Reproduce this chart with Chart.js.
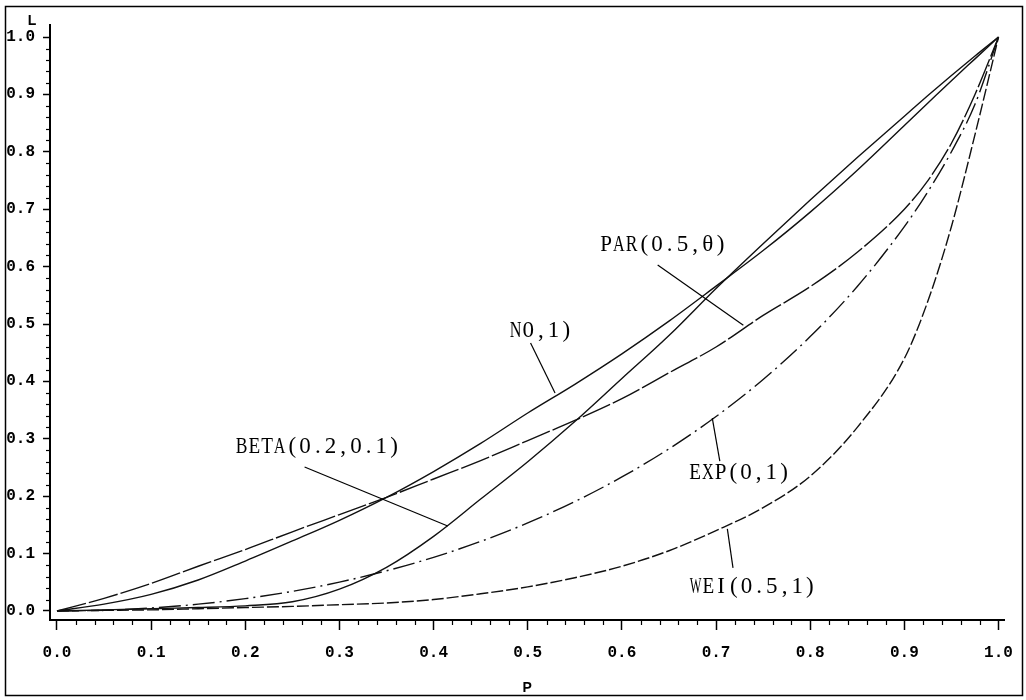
<!DOCTYPE html>
<html>
<head>
<meta charset="utf-8">
<script src="https://cdn.jsdelivr.net/npm/chart.js@4"></script>
<style>
  html,body{margin:0;padding:0;background:#fff;}
  #wrap{width:1026px;height:700px;position:relative;}
</style>
</head>
<body>
<div id="wrap"><canvas id="c" width="1026" height="700"></canvas></div>
<script>
// ---- data ----
const P    = [0,0.05,0.1,0.15,0.2,0.25,0.3,0.35,0.4,0.45,0.5,0.55,0.6,0.65,0.7,0.75,0.8,0.85,0.9,0.925,0.95,0.975,1];
const N01  = [0,0.012,0.029,0.054,0.087,0.122,0.158,0.198,0.243,0.292,0.345,0.395,0.448,0.505,0.566,0.628,0.695,0.768,0.846,0.885,0.924,0.962,1];
const BETA = [0,0.002,0.004,0.006,0.009,0.016,0.038,0.076,0.13,0.195,0.26,0.33,0.405,0.48,0.562,0.64,0.716,0.79,0.862,0.898,0.933,0.967,1];
const PAR  = [0,0.022,0.048,0.078,0.107,0.138,0.168,0.198,0.23,0.262,0.297,0.332,0.37,0.415,0.46,0.515,0.565,0.625,0.70,0.75,0.815,0.90,1];
const EXP  = [0,0.0013,0.0052,0.0119,0.0215,0.0342,0.0503,0.0700,0.0935,0.1212,0.1534,0.1907,0.2335,0.2826,0.3388,0.4034,0.4781,0.5654,0.6697,0.7307,0.8002,0.8828,1];
const WEI  = [0,0.001,0.002,0.004,0.006,0.008,0.011,0.014,0.02,0.03,0.042,0.058,0.078,0.105,0.14,0.18,0.235,0.32,0.44,0.54,0.67,0.83,1];
const TICKS = [0,0.1,0.2,0.3,0.4,0.5,0.6,0.7,0.8,0.9,1.0];
const X_TITLE = 'P';
const Y_TITLE = 'L';
// curve labels: text, label centre (p,L), leader start (p,L), leader end (p,L)
const LABEL_TEXT = ['BETA(0.2,0.1)','N0,1)','PAR(0.5,θ)','EXP(0,1)','WEI(0.5,1)'];
const LABEL_POS  = [[0.277,0.287],[0.514,0.490],[0.644,0.639],[0.725,0.242],[0.739,0.044]];
const LEADER_A   = [[0.263,0.251],[0.503,0.467],[0.638,0.603],[0.704,0.261],[0.718,0.075]];
const LEADER_B   = [[0.415,0.148],[0.529,0.380],[0.729,0.498],[0.696,0.336],[0.712,0.143]];

function pts(ys){ return P.map((p,i)=>({x:p,y:ys[i]})); }
function ds(label, ys, dash){
  return {label, data:pts(ys), borderColor:'#111', borderWidth:1.4, borderDash:dash,
          pointRadius:0, showLine:true, fill:false, cubicInterpolationMode:'monotone'};
}

const tickFont = {family:"'Liberation Mono', 'DejaVu Sans Mono', monospace", size:16, weight:'bold'};

const extras = {
  id:'extras',
  afterDraw(chart){
    const ctx = chart.ctx, xs = chart.scales.x, ys = chart.scales.y;
    const ca = chart.chartArea;
    ctx.save();
    // minor ticks
    ctx.strokeStyle = '#000'; ctx.lineWidth = 1.2;
    for(let i=0;i<=50;i++){
      if(i%5===0) continue;
      const v = i/50;
      const px = Math.round(xs.getPixelForValue(v))+0.5;
      ctx.beginPath(); ctx.moveTo(px,ca.bottom); ctx.lineTo(px,ca.bottom+5); ctx.stroke();
      const py = Math.round(ys.getPixelForValue(v))+0.5;
      ctx.beginPath(); ctx.moveTo(ca.left,py); ctx.lineTo(ca.left-4,py); ctx.stroke();
    }
    // axis titles
    ctx.fillStyle = '#000';
    ctx.font = "bold 14px 'Liberation Sans', Arial, sans-serif";
    ctx.textAlign = 'center'; ctx.textBaseline = 'middle';
    ctx.fillText(Y_TITLE, ca.left-18, ca.top-4);
    ctx.fillText(X_TITLE, (ca.left+ca.right)/2, ca.bottom+68);
    // curve labels with leaders
    ctx.lineWidth = 1.2;
    for(let k=0;k<LABEL_TEXT.length;k++){
      const ax = xs.getPixelForValue(LEADER_A[k][0]), ay = ys.getPixelForValue(LEADER_A[k][1]);
      const bx = xs.getPixelForValue(LEADER_B[k][0]), by = ys.getPixelForValue(LEADER_B[k][1]);
      ctx.beginPath(); ctx.moveTo(ax,ay); ctx.lineTo(bx,by); ctx.stroke();
      const cx = xs.getPixelForValue(LABEL_POS[k][0]), cy = ys.getPixelForValue(LABEL_POS[k][1]);
      const t = LABEL_TEXT[k], cell = 12.7;
      ctx.font = "23px 'Liberation Serif', 'DejaVu Serif', serif";
      const x0 = cx - cell*t.length/2 + cell/2;
      for(let j=0;j<t.length;j++){
        const w = ctx.measureText(t[j]).width;
        const sx = Math.min(1, (cell*0.92)/w);
        ctx.save();
        ctx.translate(x0 + j*cell, cy);
        ctx.scale(sx,1);
        ctx.fillText(t[j],0,1);
        ctx.restore();
      }
    }
    // outer frame
    ctx.lineWidth = 1.5;
    ctx.strokeRect(5.5,6.5,1017,689);
    ctx.restore();
  }
};

new Chart(document.getElementById('c'), {
  type:'scatter',
  data:{datasets:[
    ds('N(0,1)', N01, []),
    ds('BETA(0.2,0.1)', BETA, []),
    ds('PAR(0.5,θ)', PAR, [30,3]),
    ds('EXP(0,1)', EXP, [22,5,2,5]),
    ds('WEI(0.5,1)', WEI, [12,3]),
  ]},
  options:{
    responsive:false, animation:false, devicePixelRatio:1,
    layout:{padding:{left:0,top:25,right:13,bottom:0}},
    plugins:{legend:{display:false}, tooltip:{enabled:false}},
    scales:{
      x:{type:'linear', min:-0.0074, max:1.0063,
         afterBuildTicks(s){ s.ticks = TICKS.map(v=>({value:v})); },
         afterFit(s){ s.height = 80; },
         ticks:{callback:v=>Number(v).toFixed(1), color:'#000', font:tickFont, padding:13, maxRotation:0, autoSkip:false},
         grid:{display:true, drawOnChartArea:false, drawTicks:true, tickLength:10, tickColor:'#000', tickWidth:1.5},
         border:{display:true, color:'#000', width:2}
      },
      y:{type:'linear', min:-0.0157, max:1.021,
         afterBuildTicks(s){ s.ticks = TICKS.map(v=>({value:v})); },
         afterFit(s){ s.width = 50; },
         ticks:{callback:v=>Number(v).toFixed(1), color:'#000', font:tickFont, padding:8, autoSkip:false},
         grid:{display:true, drawOnChartArea:false, drawTicks:true, tickLength:7, tickColor:'#000', tickWidth:1.5},
         border:{display:true, color:'#000', width:2}
      }
    }
  },
  plugins:[extras]
});
</script>
</body>
</html>
